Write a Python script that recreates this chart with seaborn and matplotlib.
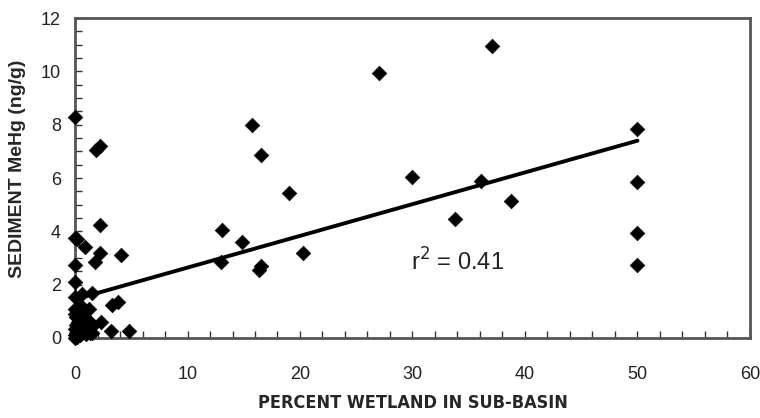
import numpy as np
import pandas as pd
import matplotlib
matplotlib.use('Agg')
import matplotlib.pyplot as plt
import seaborn as sns
from matplotlib.ticker import MultipleLocator

# percent wetland (x) and sediment MeHg (y)
wetland = [0.0, 1.9, 2.2, 2.2, 0.0, 0.2, 0.9, 2.2, 4.1, 1.8, 0.0, 0.0,
           0.0, 0.6, 1.5, 0.0, 1.2, 3.3, 3.8, 2.3, 3.2, 4.8,
           0.0, 0.1, 0.2, 0.3, 0.4, 0.5, 0.6, 0.8, 1.0, 1.2, 1.4, 1.6,
           0.0, 0.1, 0.3, 0.5, 0.7, 0.9, 1.1, 1.3, 0.2, 0.4, 0.6, 0.8,
           0.0, 0.2, 0.5, 0.0, 0.1, 1.0, 0.3, 0.7, 1.5, 0.4,
           13.1, 13.0, 14.8, 15.7, 16.5, 16.5, 16.4, 19.0, 20.3,
           27.0, 30.0, 33.8, 36.1, 37.1, 38.8,
           50.0, 50.0, 50.0, 50.0]
mehg = [8.3, 7.05, 7.2, 4.25, 3.75, 3.7, 3.4, 3.2, 3.1, 2.85, 2.75, 2.1,
        1.55, 1.65, 1.7, 1.1, 1.1, 1.25, 1.35, 0.6, 0.25, 0.25,
        0.1, 0.2, 0.5, 0.3, 0.7, 0.4, 0.2, 0.5, 0.3, 0.6, 0.4, 0.5,
        0.9, 0.8, 0.9, 0.8, 0.6, 0.8, 0.4, 0.2, 0.05, 0.1, 0.6, 0.3,
        0.35, 1.0, 1.2, 0.0, 0.5, 0.15, 0.6, 0.25, 0.2, 1.05,
        4.05, 2.85, 3.6, 8.0, 6.85, 2.7, 2.55, 5.45, 3.2,
        9.95, 6.05, 4.45, 5.9, 10.95, 5.15,
        7.85, 5.85, 3.95, 2.75]

# regression line end points
fit_x = [0, 50]
fit_y = [1.45, 7.4]

df = pd.DataFrame({'wetland': wetland, 'mehg': mehg})
fit = pd.DataFrame({'x': fit_x, 'y': fit_y})

sns.set_style('white')
fig = plt.figure(figsize=(7.6, 4.18), dpi=100)
ax = fig.add_axes([0.0987, 0.1914, 0.8881, 0.7655])

sns.scatterplot(data=df, x='wetland', y='mehg', marker='D', s=55,
                color='black', edgecolor='black', linewidth=0.5, ax=ax,
                zorder=5, clip_on=False)
sns.lineplot(data=fit, x='x', y='y', color='black', linewidth=2.8, ax=ax, zorder=4)

ax.set_xlim(0, 60)
ax.set_ylim(0, 12)
ax.xaxis.set_major_locator(MultipleLocator(10))
ax.xaxis.set_minor_locator(MultipleLocator(2))
ax.yaxis.set_major_locator(MultipleLocator(2))
ax.yaxis.set_minor_locator(MultipleLocator(0.5))
ax.tick_params(axis='both', which='both', direction='in', colors='#333333',
               labelcolor='#222222', labelsize=13, bottom=True, left=True,
               length=5, width=1)
ax.tick_params(axis='y', which='major', pad=10)
ax.tick_params(axis='x', which='major', pad=20)
for sp in ax.spines.values():
    sp.set_color('#555555')
    sp.set_linewidth(2)

ax.set_xlabel('PERCENT WETLAND IN SUB-BASIN', fontsize=13, fontweight='bold',
              family='DejaVu Sans', fontstretch='condensed', labelpad=8)
ax.set_ylabel('SEDIMENT MeHg (ng/g)', fontsize=14, fontweight='bold',
              family=['Liberation Sans', 'DejaVu Sans'], labelpad=10)
ax.yaxis.set_label_coords(-0.073, 0.53)
for lab in ax.get_xticklabels() + ax.get_yticklabels():
    lab.set_family(['Liberation Sans', 'DejaVu Sans'])

ax.text(29.9, 2.85, 'r$^2$ = 0.41', fontsize=17, va='center', ha='left',
        family=['Liberation Sans', 'DejaVu Sans'], color='#222222')

fig.savefig('out.png', dpi=100)
